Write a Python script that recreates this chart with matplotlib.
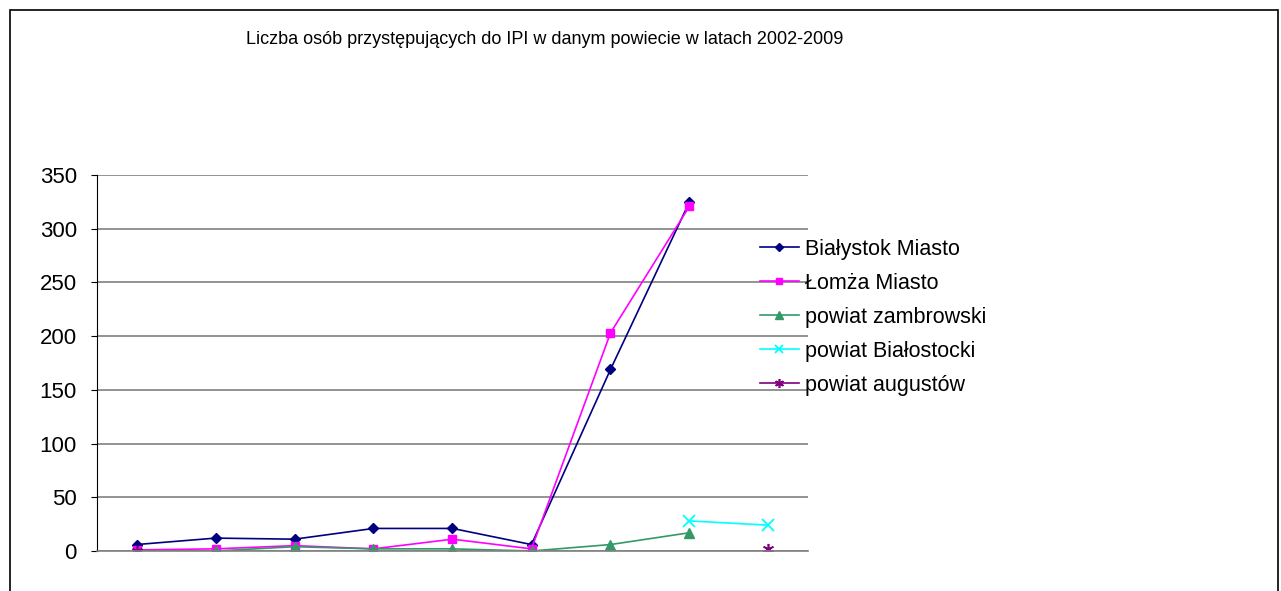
import numpy as np
import matplotlib.pyplot as plt
from matplotlib.patches import Rectangle

plt.rcParams['font.family'] = ['Liberation Sans', 'DejaVu Sans']

# dane (9 punktow na osi x, bez etykiet)
kategorie = np.arange(9)
bialystok = [6, 12, 11, 21, 21, 6, 169, 325, np.nan]
lomza = [1, 2, 5, 2, 11, 2, 203, 321, np.nan]
zambrowski = [0, 0, 4, 2, 2, 0, 6, 17, np.nan]
bialostocki = [np.nan, np.nan, np.nan, np.nan, np.nan, np.nan, np.nan, 28, 24]
augustow = [0, np.nan, np.nan, np.nan, np.nan, np.nan, np.nan, np.nan, 2]

fig = plt.figure(figsize=(12.81, 5.91), dpi=100)
ax = fig.add_axes([97/1281, 40/591, 711/1281, 376/591])

ax.plot(kategorie, bialystok, color='#000080', marker='D', markersize=5, lw=1.2, label='Białystok Miasto')
ax.plot(kategorie, lomza, color='#FF00FF', marker='s', markersize=6, lw=1.2, label='Łomża Miasto')
ax.plot(kategorie, zambrowski, color='#339966', marker='^', markersize=7, lw=1.2, label='powiat zambrowski')
ax.plot(kategorie, bialostocki, color='#00FFFF', marker='x', markersize=8, mew=1.3, lw=1.2, label='powiat Białostocki')
ax.plot(kategorie, augustow, color='#800080', marker=(6, 2, 0), markersize=8, mew=1.2, lw=1.2, label='powiat augustów')

ax.set_xlim(-0.5, 8.5)
ax.set_ylim(0, 350)
ax.set_yticks(range(0, 351, 50))
ax.set_xticks([])
ax.tick_params(axis='y', labelsize=16, length=4.5, pad=10, direction='out')
ax.grid(axis='y', color='#808080', lw=1.2)
ax.set_axisbelow(True)
for s in ['top', 'right']:
    ax.spines[s].set_visible(False)
ax.spines['bottom'].set_color('#808080')
ax.spines['bottom'].set_linewidth(1.2)
ax.spines['left'].set_color('black')

leg = ax.legend(loc='upper left', bbox_to_anchor=(760/1281, 1-239/591), bbox_transform=fig.transFigure,
                frameon=False, fontsize=15.5, handlelength=1.8, handletextpad=0.3, labelspacing=0.6,
                borderaxespad=0, borderpad=0, markerscale=0.8)

fig.text(545/1281, 1-40/591, 'Liczba osób przystępujących do IPI w danym powiecie w latach 2002-2009',
         ha='center', va='center', fontsize=13)

# ramka wykresu
fig.patches.append(Rectangle((10/1281, -0.1), 1268/1281, 1.1 - 10/591, transform=fig.transFigure,
                             fill=False, edgecolor='black', lw=1.2))

fig.savefig('out.png', dpi=100)
